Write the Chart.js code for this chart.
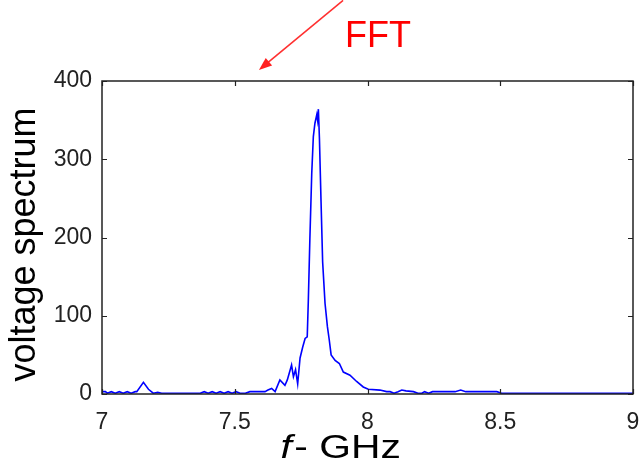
<!DOCTYPE html>
<html>
<head>
<meta charset="utf-8">
<script src="https://cdn.jsdelivr.net/npm/chart.js@4.4.1/dist/chart.umd.min.js"></script>
<style>
  html, body { margin: 0; padding: 0; background: #fff; }
  #wrap { width: 641px; height: 462px; position: relative; }
</style>
</head>
<body>
<div id="wrap"><canvas id="fftChart"></canvas></div>
<script>
// frequency (GHz) and voltage spectrum values
const freqs = [
  7.000, 7.013, 7.020, 7.035, 7.050, 7.065, 7.080, 7.095, 7.110, 7.125,
  7.131, 7.156, 7.175, 7.193, 7.210, 7.225, 7.260, 7.300, 7.340, 7.370,
  7.385, 7.400, 7.415, 7.430, 7.445, 7.460, 7.475, 7.490, 7.505, 7.520,
  7.540, 7.557, 7.614, 7.625, 7.639, 7.652, 7.670, 7.689, 7.698, 7.714,
  7.721, 7.729, 7.737, 7.746, 7.756, 7.765, 7.773, 7.777, 7.783, 7.790,
  7.796, 7.802, 7.809, 7.812, 7.815, 7.819, 7.825, 7.831, 7.840, 7.849,
  7.856, 7.863, 7.878, 7.894, 7.909, 7.934, 7.959, 7.984, 8.003, 8.047,
  8.072, 8.085, 8.100, 8.115, 8.129, 8.145, 8.173, 8.190, 8.205, 8.215,
  8.230, 8.245, 8.286, 8.330, 8.351, 8.370, 8.424, 8.487, 8.505, 8.700,
  9.000
];
const spectrum = [
  3, 3, 1, 3, 1, 3, 1, 3, 1, 3,
  3, 15, 6, 1, 2, 1, 1, 1, 1, 1,
  3, 1, 3, 1, 3, 1, 3, 1, 3, 1,
  1, 3, 3, 5, 7, 3, 18, 11, 18, 37,
  22, 31, 13, 46, 60, 71, 73, 118, 199, 282,
  329, 346, 357, 350, 364, 326, 246, 169, 116, 86,
  69, 50, 43, 39, 28, 24, 16, 9, 6, 5,
  3, 3, 1, 3, 5, 4, 3, 1, 1, 3,
  1, 3, 3, 3, 5, 3, 3, 3, 1, 1,
  1
];
const xTicks = [7, 7.5, 8, 8.5, 9];
const xTickLabels = ['7', '7.5', '8', '8.5', '9'];
const yTicks = [0, 100, 200, 300, 400];
const yTitle = 'voltage spectrum';

// annotation: arrow and label, in data units
const arrowFrom = { x: 7.908, y: 503 };
const arrowTo = { x: 7.591, y: 414 };
const fftLabel = { x: 7.919, y: 443, text: 'FFT' };

const FONT = '"Liberation Sans", Arial, sans-serif';

const boxPlugin = {
  id: 'matlabBox',
  afterDraw(chart) {
    const { ctx, chartArea: a, scales } = chart;
    const sx = scales.x, sy = scales.y;
    ctx.save();

    // axes box
    ctx.strokeStyle = '#222';
    ctx.lineWidth = 1.5;
    ctx.strokeRect(a.left, a.top, a.right - a.left, a.bottom - a.top);

    // inward ticks
    ctx.lineWidth = 1.2;
    ctx.beginPath();
    xTicks.forEach(v => {
      const px = Math.round(sx.getPixelForValue(v)) + 0.5;
      ctx.moveTo(px, a.bottom); ctx.lineTo(px, a.bottom - 5);
      ctx.moveTo(px, a.top); ctx.lineTo(px, a.top + 5);
    });
    yTicks.forEach(v => {
      const py = Math.round(sy.getPixelForValue(v)) + 0.5;
      ctx.moveTo(a.left, py); ctx.lineTo(a.left + 5, py);
      ctx.moveTo(a.right, py); ctx.lineTo(a.right - 5, py);
    });
    ctx.stroke();

    // y axis title, rotated
    ctx.fillStyle = '#000';
    ctx.textBaseline = 'alphabetic';
    ctx.textAlign = 'center';
    ctx.font = '36px ' + FONT;
    ctx.translate(35, (a.top + a.bottom) / 2 + 7);
    ctx.rotate(-Math.PI / 2);
    ctx.fillText(yTitle, 0, 0);
    ctx.setTransform(1, 0, 0, 1, 0, 0);

    // x axis title: italic f + "- GHz"
    const cx = (a.left + a.right) / 2 - 28;
    ctx.translate(cx, 458);
    ctx.scale(1.2, 1);
    ctx.font = 'italic 34px ' + FONT;
    const fW = ctx.measureText('f').width;
    ctx.font = '34px ' + FONT;
    const restW = ctx.measureText('- GHz').width;
    const total = fW + restW;
    ctx.textAlign = 'left';
    ctx.font = 'italic 34px ' + FONT;
    ctx.fillText('f', -total / 2, 0);
    ctx.font = '34px ' + FONT;
    ctx.fillText('- GHz', -total / 2 + fW + 2, 0);
    ctx.setTransform(1, 0, 0, 1, 0, 0);

    // arrow
    const x0 = sx.getPixelForValue(arrowFrom.x), y0 = sy.getPixelForValue(arrowFrom.y);
    const x1 = sx.getPixelForValue(arrowTo.x), y1 = sy.getPixelForValue(arrowTo.y);
    const ang = Math.atan2(y1 - y0, x1 - x0);
    ctx.strokeStyle = '#ff3030';
    ctx.fillStyle = '#ff2020';
    ctx.lineWidth = 1.6;
    ctx.beginPath();
    ctx.moveTo(x0, y0);
    ctx.lineTo(x1 - 8 * Math.cos(ang), y1 - 8 * Math.sin(ang));
    ctx.stroke();
    ctx.beginPath();
    ctx.moveTo(x1, y1);
    ctx.lineTo(x1 - 13 * Math.cos(ang) + 5 * Math.sin(ang), y1 - 13 * Math.sin(ang) - 5 * Math.cos(ang));
    ctx.lineTo(x1 - 13 * Math.cos(ang) - 5 * Math.sin(ang), y1 - 13 * Math.sin(ang) + 5 * Math.cos(ang));
    ctx.closePath();
    ctx.fill();

    // FFT label
    ctx.fillStyle = '#ff0000';
    ctx.font = '36px ' + FONT;
    ctx.textAlign = 'left';
    ctx.fillText(fftLabel.text, sx.getPixelForValue(fftLabel.x) - 1, sy.getPixelForValue(fftLabel.y));

    ctx.restore();
  }
};

new Chart(document.getElementById('fftChart').getContext('2d'), {
  type: 'line',
  data: {
    datasets: [{
      data: freqs.map((f, i) => ({ x: f, y: spectrum[i] })),
      borderColor: '#0000ff',
      borderWidth: 1.6,
      pointRadius: 0,
      tension: 0,
      fill: false
    }]
  },
  options: {
    responsive: true,
    maintainAspectRatio: false,
    animation: false,
    events: [],
    layout: { padding: { top: 81, right: 8, left: 0, bottom: 0 } },
    plugins: { legend: { display: false }, tooltip: { enabled: false } },
    scales: {
      x: {
        type: 'linear',
        min: 7, max: 9,
        afterBuildTicks: s => { s.ticks = xTicks.map(v => ({ value: v })); },
        afterFit: s => { s.height = 68; s.paddingRight = 0; s.paddingLeft = 0; },
        grid: { display: false, drawTicks: false },
        border: { display: false },
        ticks: {
          color: '#222', padding: 15,
          font: { family: FONT, size: 23 },
          callback: (v, i) => xTickLabels[i]
        }
      },
      y: {
        min: 0, max: 400,
        afterBuildTicks: s => { s.ticks = yTicks.map(v => ({ value: v })); },
        afterFit: s => { s.width = 102; s.paddingTop = 0; s.paddingBottom = 0; },
        grid: { display: false, drawTicks: false },
        border: { display: false },
        ticks: { color: '#222', padding: 10, font: { family: FONT, size: 23 } }
      }
    }
  },
  plugins: [boxPlugin]
});
</script>
</body>
</html>
